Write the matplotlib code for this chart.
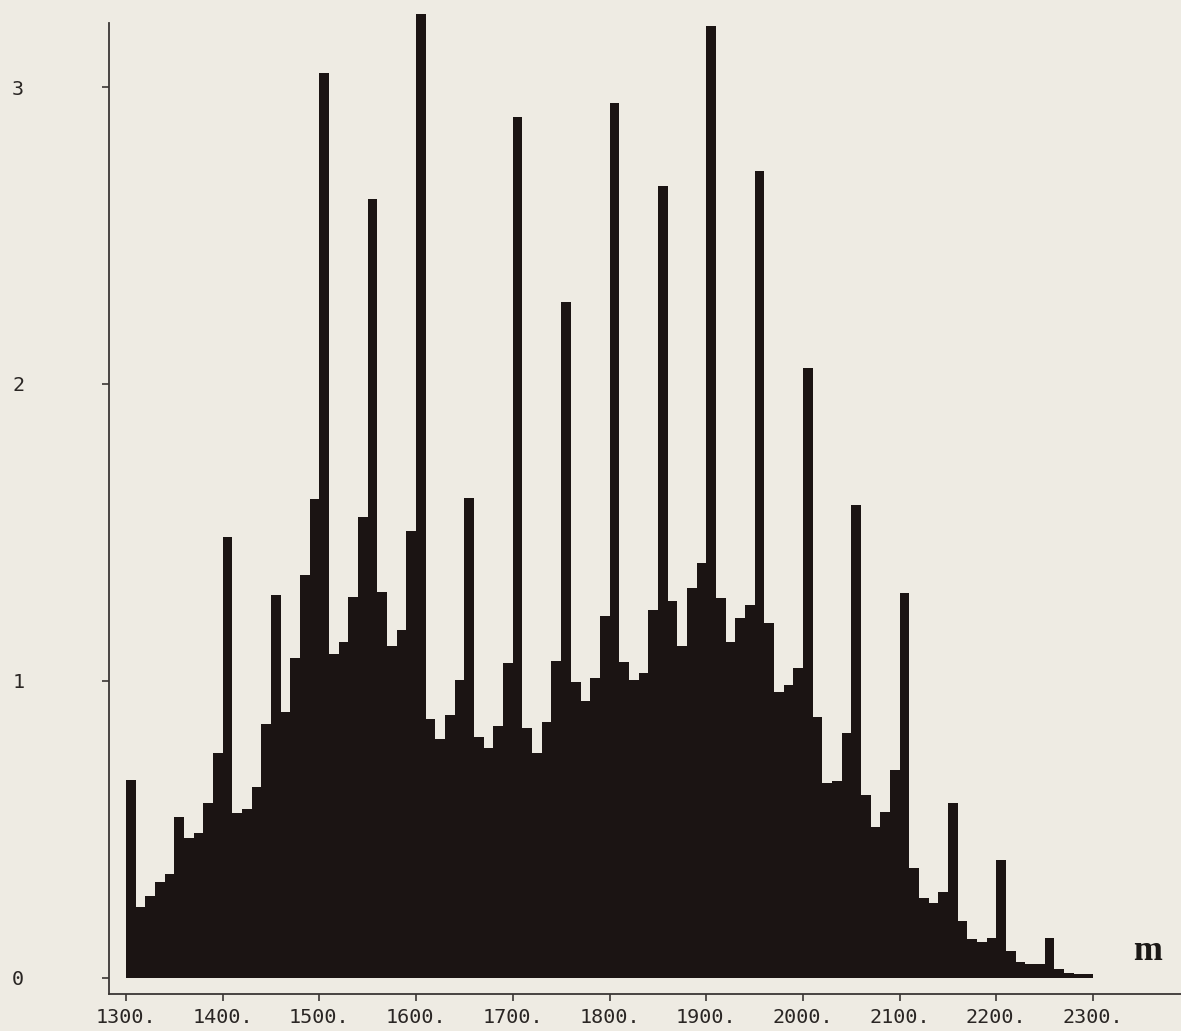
import numpy as np
import matplotlib
matplotlib.use("Agg")
import matplotlib.pyplot as plt

# ---- data ----
bin_starts = list(range(1300, 2300, 10))
bin_width = 10
heights = [
    0.667, 0.238, 0.276, 0.324, 0.350, 0.541, 0.470, 0.487, 0.590, 0.757,   # 1300-1390
    1.484, 0.554, 0.568, 0.644, 0.854, 1.290, 0.895, 1.076, 1.357, 1.613,   # 1400-1490
    3.047, 1.091, 1.132, 1.284, 1.551, 2.622, 1.299, 1.119, 1.172, 1.505,   # 1500-1590
    3.245, 0.871, 0.805, 0.885, 1.003, 1.615, 0.810, 0.773, 0.848, 1.060,   # 1600-1690
    2.898, 0.841, 0.757, 0.863, 1.068, 2.277, 0.998, 0.931, 1.009, 1.219,   # 1700-1790
    2.945, 1.065, 1.003, 1.026, 1.239, 2.668, 1.270, 1.119, 1.314, 1.398,   # 1800-1890
    3.204, 1.278, 1.132, 1.213, 1.256, 2.716, 1.196, 0.964, 0.987, 1.045,   # 1900-1990
    2.054, 0.878, 0.655, 0.663, 0.824, 1.593, 0.616, 0.509, 0.560, 0.700,   # 2000-2090
    1.295, 0.369, 0.268, 0.252, 0.288, 0.588, 0.192, 0.131, 0.121, 0.134,   # 2100-2190
    0.397, 0.091, 0.054, 0.047, 0.047, 0.134, 0.029, 0.018, 0.013, 0.012,   # 2200-2290
]
x_ticks = [1300, 1400, 1500, 1600, 1700, 1800, 1900, 2000, 2100, 2200, 2300]
x_tick_labels = [f"{t}." for t in x_ticks]
y_ticks = [0, 1, 2, 3]
y_tick_labels = ["0", "1", "2", "3"]
axis_label = "m"

# ---- style ----
paper = "#eeebe3"
ink = "#1b1413"
line_col = "#3a3634"

fig = plt.figure(figsize=(11.81, 10.31), dpi=100, facecolor=paper)
ax = fig.add_axes([109 / 1181, 37 / 1031, (1181 - 109) / 1181, (994 - 23) / 1031])
ax.set_facecolor(paper)

ax.bar(bin_starts, heights, width=bin_width, align="edge",
       color=ink, linewidth=0, clip_on=False)

ax.set_xlim(1282.4, 2391)
ax.set_ylim(-0.0539, 3.2155)

for s in ("top", "right"):
    ax.spines[s].set_visible(False)
for s in ("left", "bottom"):
    ax.spines[s].set_color(line_col)
    ax.spines[s].set_linewidth(1.3)

ax.set_xticks(x_ticks)
ax.set_xticklabels(x_tick_labels, family="DejaVu Sans Mono", fontsize=14.5, color="#2a2624")
ax.set_yticks(y_ticks)
ax.set_yticklabels(y_tick_labels, family="DejaVu Sans Mono", fontsize=14.5, color="#2a2624")
ax.tick_params(axis="x", direction="out", length=5, width=1.2, color=line_col, pad=5)
ax.tick_params(axis="y", direction="out", length=5, width=1.2, color=line_col, pad=56)

ax.text(2356, 0.09, axis_label, family="Liberation Serif", fontweight="bold",
        fontsize=25, color="#1b1816", ha="center", va="center")

fig.savefig("out.png", dpi=100, facecolor=paper)
